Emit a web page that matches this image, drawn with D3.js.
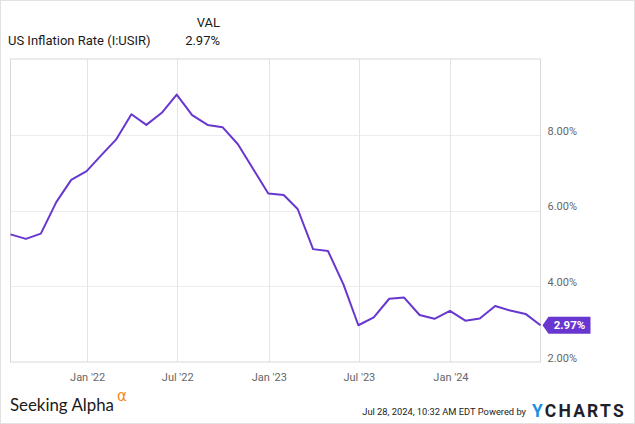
<!DOCTYPE html>
<html><head><meta charset="utf-8">
<script src="https://cdn.jsdelivr.net/npm/d3@7"></script>
<style>
html,body{margin:0;padding:0;background:#fff;}
svg{display:block;font-family:Roboto,"Noto Sans",sans-serif;}
</style></head>
<body>
<script>
// Data: US Inflation Rate (I:USIR), monthly, Jul 2021 – Jun 2024
const months = ["2021-07","2021-08","2021-09","2021-10","2021-11","2021-12",
  "2022-01","2022-02","2022-03","2022-04","2022-05","2022-06","2022-07","2022-08","2022-09","2022-10","2022-11","2022-12",
  "2023-01","2023-02","2023-03","2023-04","2023-05","2023-06","2023-07","2023-08","2023-09","2023-10","2023-11","2023-12",
  "2024-01","2024-02","2024-03","2024-04","2024-05","2024-06"];
const values = [5.37,5.25,5.39,6.22,6.81,7.04,
  7.48,7.87,8.54,8.26,8.58,9.06,8.52,8.26,8.20,7.75,7.11,6.45,
  6.41,6.04,4.98,4.93,4.05,2.97,3.18,3.67,3.70,3.24,3.14,3.35,
  3.09,3.15,3.48,3.36,3.27,2.97];
const yTicks = [2,4,6,8];
const xTickDates = ["2022-01-01","2022-07-01","2023-01-01","2023-07-01","2024-01-01"];
const seriesName = "US Inflation Rate (I:USIR)";
const lastLabel = "2.97%";

const W = 635, H = 424;
const plot = {left: 10.5, right: 540.5, top: 59, bottom: 362};
const parseM = d3.timeParse("%Y-%m");
const monthEnd = m => d3.timeDay.offset(d3.timeMonth.offset(parseM(m), 1), -1);
const data = months.map((m, i) => ({date: monthEnd(m), value: values[i]}));

const x = d3.scaleTime()
  .domain(d3.extent(data, d => d.date))
  .range([plot.left, plot.right]);
const y = d3.scaleLinear().domain([2, 10]).range([plot.bottom, plot.top]);

const svg = d3.select("body").append("svg").attr("width", W).attr("height", H);

// outer frame
svg.append("rect").attr("x", 0.5).attr("y", 0.5).attr("width", W - 1).attr("height", H - 1)
  .attr("fill", "none").attr("stroke", "#e2e2e2");

// gridlines
const xt = xTickDates.map(d => d3.timeParse("%Y-%m-%d")(d));
svg.append("g").selectAll("line").data(yTicks.filter(v => v > 2)).join("line")
  .attr("x1", plot.left).attr("x2", plot.right)
  .attr("y1", d => Math.round(y(d)) + 0.5).attr("y2", d => Math.round(y(d)) + 0.5)
  .attr("stroke", "#ececec");
svg.append("g").selectAll("line").data(xt).join("line")
  .attr("y1", plot.top).attr("y2", plot.bottom)
  .attr("x1", d => Math.round(x(d)) + 0.5).attr("x2", d => Math.round(x(d)) + 0.5)
  .attr("stroke", "#e4e4e4");

// plot border
svg.append("rect").attr("x", plot.left).attr("y", plot.top)
  .attr("width", plot.right - plot.left).attr("height", plot.bottom - plot.top)
  .attr("fill", "none").attr("stroke", "#d8d8d8");

// axes
const yAxis = d3.axisRight(y).tickValues(yTicks).tickSize(0).tickPadding(7)
  .tickFormat(d => d3.format(".2f")(d) + "%");
const gy = svg.append("g").attr("transform", `translate(${plot.right},0)`).call(yAxis);
gy.select(".domain").remove();
gy.selectAll("text").attr("font-size", 11).attr("fill", "#666").attr("font-family", "Roboto")
  .attr("dy", "-0.05em");

const xAxis = d3.axisBottom(x).tickValues(xt).tickSize(0).tickPadding(11)
  .tickFormat(d3.timeFormat("%b '%y"));
const gx = svg.append("g").attr("transform", `translate(0,${plot.bottom})`).call(xAxis);
gx.select(".domain").remove();
gx.selectAll("text").attr("font-size", 11).attr("fill", "#666").attr("font-family", "Roboto");

// line
const line = d3.line().x(d => x(d.date)).y(d => y(d.value));
svg.append("path").datum(data).attr("d", line)
  .attr("fill", "none").attr("stroke", "#6737d0").attr("stroke-width", 2)
  .attr("stroke-linejoin", "round");

// last value tag
const last = data[data.length - 1];
const tx = x(last.date) + 2, ty = y(last.value);
const tag = svg.append("g");
tag.append("path")
  .attr("d", `M${tx},${ty} L${tx + 6},${ty - 8.5} L${tx + 48},${ty - 8.5} L${tx + 48},${ty + 8.5} L${tx + 6},${ty + 8.5} Z`)
  .attr("fill", "#6737d0");
tag.append("text").attr("x", tx + 27).attr("y", ty + 4).attr("text-anchor", "middle")
  .attr("fill", "#fff").attr("font-weight", "bold").attr("font-size", 11.5).text(lastLabel);

// header
svg.append("text").attr("x", 8).attr("y", 45).attr("font-size", 13).attr("fill", "#1a1a1a")
  .text(seriesName);
svg.append("text").attr("x", 220).attr("y", 27).attr("font-size", 13).attr("fill", "#1a1a1a")
  .attr("text-anchor", "end").text("VAL");
svg.append("text").attr("x", 220).attr("y", 45).attr("font-size", 13).attr("fill", "#1a1a1a")
  .attr("text-anchor", "end").text(lastLabel);

// footer: fit text widths by adjusting font size
function fitText(sel, target, base) {
  const w = sel.node().getComputedTextLength();
  sel.attr("font-size", base * target / w);
}
const sa = svg.append("text").attr("x", 10).attr("y", 411).attr("font-size", 18).attr("font-family", "Lato")
  .attr("fill", "#1a1a1a").text("Seeking Alpha");
fitText(sa, 104, 18);
svg.append("text").attr("x", 117).attr("y", 401).attr("font-size", 15).attr("font-family", "DejaVu Sans")
  .attr("fill", "#f58a1f").text("α");
const dt = svg.append("text").attr("x", 526).attr("y", 415).attr("font-size", 11).attr("fill", "#222")
  .attr("font-family", "'Liberation Sans Narrow', Roboto, sans-serif")
  .attr("text-anchor", "end").text("Jul 28, 2024, 10:32 AM EDT Powered by");
fitText(dt, 164, 11);
const yc = svg.append("text").attr("x", 532).attr("y", 417).attr("font-size", 17.5)
  .attr("font-weight", "bold").attr("letter-spacing", 2.2);
yc.append("tspan").attr("fill", "#1c8fe3").text("Y");
yc.append("tspan").attr("fill", "#1f1f2e").text("CHARTS");
</script>
</body></html>
